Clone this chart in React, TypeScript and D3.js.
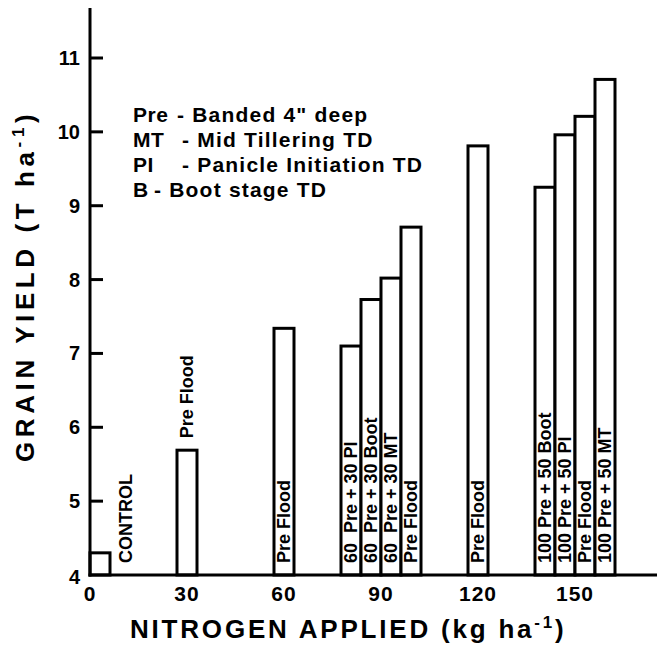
import React from 'react';
import * as d3 from 'd3';

// nitrogen rate (kg/ha) for each group of bars
const rates = [0, 30, 60, 90, 120, 150];
// grain yield (T/ha) of each bar, grouped by rate
const yields = [
  [4.3],
  [5.69],
  [7.34],
  [7.1, 7.73, 8.02, 8.71],
  [9.81],
  [9.25, 9.96, 10.21, 10.71]
];
const barLabels = [
  ['CONTROL'],
  ['Pre Flood'],
  ['Pre Flood'],
  ['60  Pre + 30 PI', '60  Pre + 30 Boot', '60  Pre + 30 MT', 'Pre Flood'],
  ['Pre Flood'],
  ['100 Pre + 50 Boot', '100 Pre + 50 PI', 'Pre Flood', '100 Pre + 50 MT']
];
const yTicks = [4, 5, 6, 7, 8, 9, 10, 11];
const xTicks = [0, 30, 60, 90, 120, 150];
const legendKeys = ['Pre', 'MT', 'PI', 'B'];
const legendText = ['- Banded 4" deep', '- Mid Tillering TD', '- Panicle Initiation TD', '- Boot stage TD'];

const W = 657;
const H = 645;
const font = '"Liberation Sans", Arial, sans-serif';

export default function App() {
  const x = d3.scaleLinear().domain([0, 150]).range([90, 575]);
  const y = d3.scaleLinear().domain([4, 11]).range([575, 58]);
  const bw = 20;
  const x0 = x(0);
  const y0 = y(4);

  // where each group's labels go
  const labelMode = ['beside', 'above', 'inside', 'inside', 'inside', 'inside'];
  const legendDescX = [177, 182, 182, 154];

  const bars = [];
  rates.forEach((r, gi) => {
    const n = yields[gi].length;
    const left = Math.max(x(r) - (n * bw) / 2, x0);
    yields[gi].forEach((v, i) => {
      bars.push({ x: left + i * bw, v, label: barLabels[gi][i], mode: labelMode[gi] });
    });
  });

  return (
    <svg
      width={W}
      height={H}
      style={{ position: 'absolute', left: 0, top: 0, background: '#fff' }}
    >
      <rect width={W} height={H} fill="#fff" />
      {bars.map((b, i) => {
        const top = y(b.v);
        let lx = b.x + bw / 2;
        let ly = y0 - 12;
        if (b.mode === 'beside') lx = b.x + bw + 16;
        if (b.mode === 'above') ly = top - 12;
        return (
          <g key={i}>
            <rect
              x={b.x}
              y={top}
              width={bw}
              height={y0 - top}
              fill="#fff"
              stroke="#000"
              strokeWidth={3}
            />
            <text
              transform={`translate(${lx},${ly}) rotate(-90)`}
              dominantBaseline="central"
              fontFamily={font}
              fontWeight="bold"
              fontSize={18}
              style={{ whiteSpace: 'pre' }}
            >
              {b.label}
            </text>
          </g>
        );
      })}

      {/* axes */}
      <line x1={x0} x2={x0} y1={8} y2={y0 + 1.5} stroke="#000" strokeWidth={3} />
      <line x1={x0 - 1.5} x2={W} y1={y0} y2={y0} stroke="#000" strokeWidth={3} />
      {yTicks.map(t => (
        <g key={t}>
          {t > 4 && <line x1={x0} x2={x0 + 13} y1={y(t)} y2={y(t)} stroke="#000" strokeWidth={3} />}
          <text
            x={80}
            y={y(t) + (t === 4 ? 2 : 0)}
            textAnchor="end"
            dominantBaseline="central"
            fontFamily={font}
            fontWeight="bold"
            fontSize={20}
          >
            {t}
          </text>
        </g>
      ))}
      {xTicks.map(t => (
        <text
          key={t}
          x={x(t)}
          y={601}
          textAnchor="middle"
          fontFamily={font}
          fontWeight="bold"
          fontSize={21}
          letterSpacing={1}
        >
          {t}
        </text>
      ))}

      {/* axis titles */}
      <text x={130} y={638} fontFamily={font} fontWeight="bold" fontSize={26} letterSpacing={2.8}>
        NITROGEN APPLIED (kg ha
        <tspan fontSize={17} dy={-10}>-1</tspan>
        <tspan dy={10}>)</tspan>
      </text>
      <text
        transform="translate(34,462) rotate(-90)"
        fontFamily={font}
        fontWeight="bold"
        fontSize={26}
        letterSpacing={4.6}
      >
        GRAIN YIELD (T ha
        <tspan fontSize={17} dy={-10}>-1</tspan>
        <tspan dy={10}>)</tspan>
      </text>

      {/* legend */}
      {legendKeys.map((k, i) => (
        <g key={k} fontFamily={font} fontWeight="bold" fontSize={21}>
          <text x={133} y={122 + i * 25} letterSpacing={0.5}>{k}</text>
          <text x={legendDescX[i]} y={122 + i * 25} letterSpacing={1.2} style={{ whiteSpace: 'pre' }}>
            {legendText[i]}
          </text>
        </g>
      ))}
    </svg>
  );
}
